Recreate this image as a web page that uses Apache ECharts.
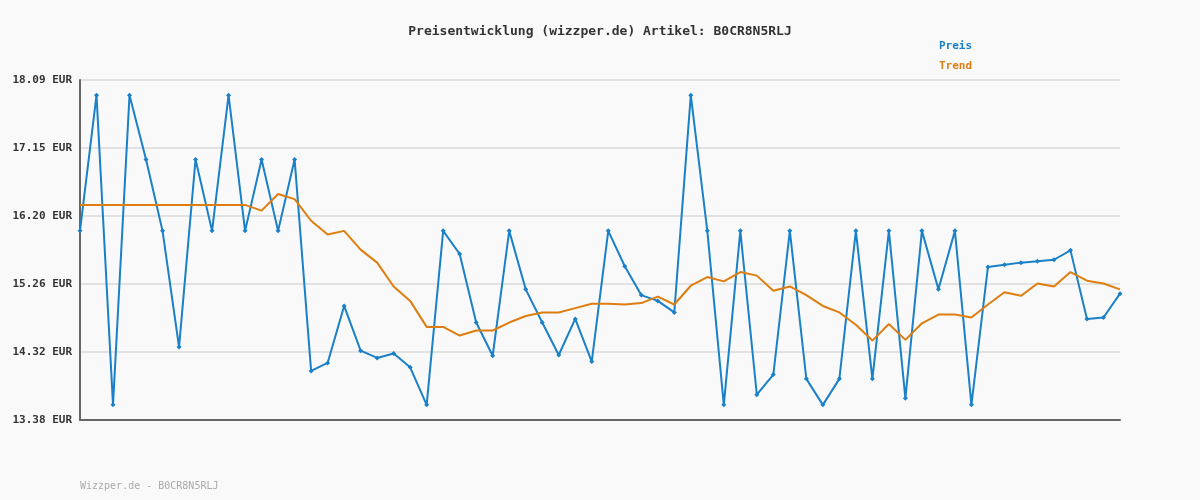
<!DOCTYPE html>
<html><head><meta charset="utf-8">
<script src="https://cdn.jsdelivr.net/npm/echarts@6/dist/echarts.min.js"></script>
<style>html,body{margin:0;padding:0;background:#f9f9f9}#c{width:1200px;height:500px}</style>
</head><body><div id="c"></div>
<script>
const categories = Array.from({length:64}, (_, i) => String(i + 1));
const preis = [16.00,17.88,13.59,17.88,16.99,16.00,14.39,16.99,16.00,17.88,16.00,16.99,16.00,16.99,14.06,14.17,14.96,14.34,14.24,14.30,14.11,13.59,16.00,15.68,14.73,14.27,16.00,15.19,14.73,14.28,14.78,14.19,16.00,15.51,15.11,15.03,14.87,17.88,16.00,13.59,16.00,13.73,14.01,16.00,13.95,13.59,13.95,16.00,13.95,16.00,13.68,16.00,15.19,16.00,13.59,15.50,15.53,15.56,15.58,15.60,15.73,14.78,14.80,15.13];
const trend = [16.36,16.36,16.36,16.36,16.36,16.36,16.36,16.36,16.36,16.36,16.36,16.28,16.51,16.44,16.14,15.95,16.00,15.74,15.56,15.23,15.03,14.67,14.67,14.55,14.62,14.62,14.73,14.82,14.87,14.87,14.93,14.99,14.99,14.98,15.00,15.09,14.98,15.24,15.36,15.30,15.43,15.38,15.17,15.23,15.11,14.96,14.87,14.70,14.48,14.71,14.49,14.72,14.84,14.84,14.80,14.98,15.15,15.10,15.27,15.23,15.43,15.31,15.27,15.19];
const tickLabels = ['13.38 EUR','14.32 EUR','15.26 EUR','16.20 EUR','17.15 EUR','18.09 EUR'];
const yMin = 13.38, yStep = 0.942;
const mono = 'DejaVu Sans Mono';
const chart = echarts.init(document.getElementById('c'));
chart.setOption({
  backgroundColor:'#f9f9f9',
  animation:false,
  title:{text:'Preisentwicklung (wizzper.de) Artikel: B0CR8N5RLJ',left:'center',top:20,
    textStyle:{fontFamily:mono,fontSize:13,fontWeight:'bold',color:'#333'}},
  graphic:[
    {type:'text',left:939,top:41,style:{text:'Preis',fill:'#1a80c8',font:'bold 11px "DejaVu Sans Mono"'}},
    {type:'text',left:939,top:61,style:{text:'Trend',fill:'#de7d10',font:'bold 11px "DejaVu Sans Mono"'}},
    {type:'text',left:80,top:481,style:{text:'Wizzper.de - B0CR8N5RLJ',fill:'#aaa',font:'10px "DejaVu Sans Mono"'}}
  ],
  grid:{left:80,right:80,top:80,bottom:80},
  xAxis:{type:'category',data:categories,boundaryGap:false,
    axisLine:{lineStyle:{color:'#666',width:2}},axisTick:{show:false},axisLabel:{show:false},splitLine:{show:false}},
  yAxis:{type:'value',min:yMin,max:18.09,interval:yStep,
    axisLine:{show:true,lineStyle:{color:'#666',width:2}},axisTick:{show:false},
    splitLine:{lineStyle:{color:'#e2e2e2',width:2}},
    axisLabel:{fontFamily:mono,fontSize:11,fontWeight:'bold',color:'#333',margin:8,
      formatter:v=>tickLabels[Math.round((v-yMin)/yStep)]||''}},
  series:[
    {name:'Preis',type:'line',data:preis,symbol:'diamond',symbolSize:5,
      lineStyle:{color:'#1a80c8',width:2},itemStyle:{color:'#1a80c8'}},
    {name:'Trend',type:'line',data:trend,symbol:'none',
      lineStyle:{color:'#de7d10',width:2},itemStyle:{color:'#de7d10'}}
  ]
});
</script></body></html>
